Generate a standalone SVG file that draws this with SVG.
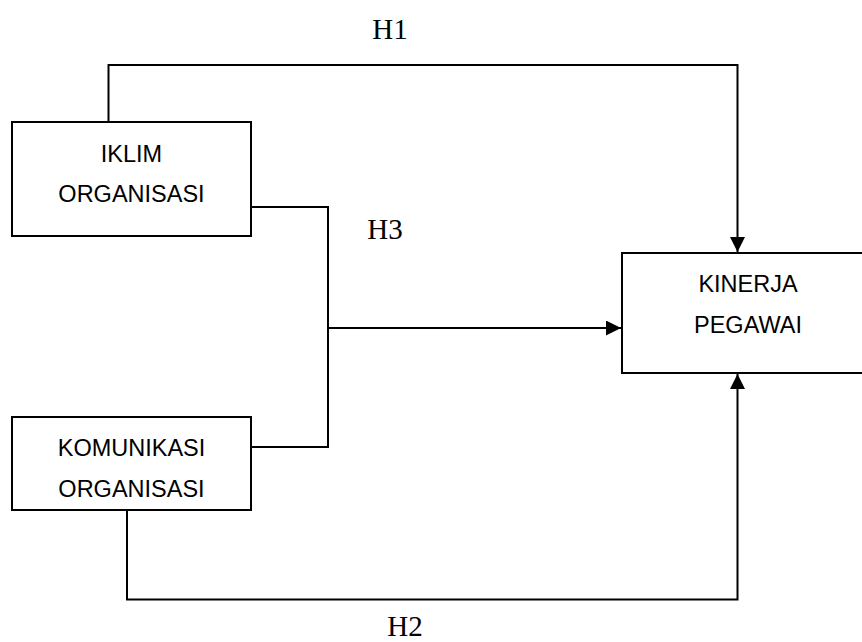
<svg xmlns="http://www.w3.org/2000/svg" width="862" height="642" viewBox="0 0 862 642">
<style>
.box{fill:#fff;stroke:#000;stroke-width:2}
.lbl{font-family:"Liberation Sans",Arial,sans-serif;font-size:23.5px;fill:#000;text-anchor:middle}
.h{font-family:"Liberation Serif","Times New Roman",serif;font-size:29px;fill:#000;text-anchor:middle}
.con{fill:none;stroke:#000;stroke-width:2}
</style>
<defs>
<marker id="arr" viewBox="0 0 10 10" refX="10" refY="5" markerWidth="7.5" markerHeight="7.5" markerUnits="strokeWidth" orient="auto">
<path d="M0,0 L10,5 L0,10 z" fill="#000"/>
</marker>
</defs>
<rect width="862" height="642" fill="#fff"/>
<g id="connectors">
<polyline class="con" points="108.5,122 108.5,65 737.5,65 737.5,252" marker-end="url(#arr)"/>
<polyline class="con" points="251,207 328,207 328,447 251,447"/>
<line class="con" x1="328" y1="328" x2="621" y2="328" marker-end="url(#arr)"/>
<polyline class="con" points="127,510 127,599.5 737.5,599.5 737.5,374" marker-end="url(#arr)"/>
</g>
<g id="iklim">
<rect class="box" x="12" y="122" width="239" height="114"/>
<text class="lbl" x="131.5" y="162">IKLIM</text>
<text class="lbl" x="131.5" y="202">ORGANISASI</text>
</g>
<g id="komunikasi">
<rect class="box" x="12" y="417" width="239" height="93"/>
<text class="lbl" x="131.5" y="456">KOMUNIKASI</text>
<text class="lbl" x="131.5" y="497">ORGANISASI</text>
</g>
<g id="kinerja">
<rect class="box" x="622" y="253" width="252" height="120"/>
<text class="lbl" x="748" y="292">KINERJA</text>
<text class="lbl" x="748" y="333">PEGAWAI</text>
</g>
<g id="labels">
<text class="h" x="390" y="39">H1</text>
<text class="h" x="385" y="239">H3</text>
<text class="h" x="405" y="636">H2</text>
</g>
</svg>
